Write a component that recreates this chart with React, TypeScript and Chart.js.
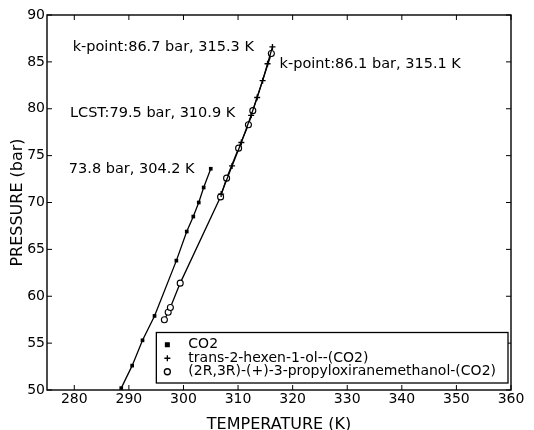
import { useEffect, useRef } from "react";
import { Chart, registerables } from "chart.js";

Chart.register(...registerables);

// ---- data ----
const co2T = [288.6, 290.6, 292.5, 294.7, 298.7, 300.6, 301.8, 302.8, 303.7, 305.0];
const co2P = [50.2, 52.6, 55.3, 57.9, 63.8, 66.9, 68.5, 70.0, 71.6, 73.6];

const hexT = [306.9, 308.9, 310.6, 312.4, 313.5, 314.5, 315.4, 316.3];
const hexP = [70.9, 73.9, 76.4, 79.3, 81.2, 83.0, 84.8, 86.6];

const oxiT = [296.5, 297.2, 297.6, 299.4, 306.8, 307.9, 310.1, 311.9, 312.7, 316.1];
const oxiP = [57.5, 58.3, 58.8, 61.4, 70.6, 72.6, 75.8, 78.3, 79.8, 85.9];

const seriesLabels = [
  "CO2",
  "trans-2-hexen-1-ol--(CO2)",
  "(2R,3R)-(+)-3-propyloxiranemethanol-(CO2)",
];

const xTicks = [280, 290, 300, 310, 320, 330, 340, 350, 360];
const yTicks = [50, 55, 60, 65, 70, 75, 80, 85, 90];

const noteTexts = [
  "k-point:86.7 bar, 315.3 K",
  "k-point:86.1 bar, 315.1 K",
  "LCST:79.5 bar, 310.9 K",
  "73.8 bar, 304.2 K",
];
const noteT = [279.7, 317.6, 279.2, 279.0];
const noteP = [86.6, 84.8, 79.5, 73.5];

const xTitle = "TEMPERATURE (K)";
const yTitle = "PRESSURE (bar)";

const FONT = "'DejaVu Sans', 'Liberation Sans', sans-serif";

function toPts(t: number[], p: number[]) {
  return t.map((v, i) => ({ x: v, y: p[i] }));
}

function drawMarker(ctx: CanvasRenderingContext2D, kind: number, x: number, y: number) {
  ctx.save();
  ctx.strokeStyle = "#000";
  ctx.fillStyle = "#000";
  ctx.lineWidth = 1.3;
  if (kind === 0) {
    ctx.fillRect(x - 2.5, y - 2.5, 5, 5);
  } else if (kind === 1) {
    ctx.beginPath();
    ctx.moveTo(x - 3, y);
    ctx.lineTo(x + 3, y);
    ctx.moveTo(x, y - 3);
    ctx.lineTo(x, y + 3);
    ctx.stroke();
  } else {
    ctx.fillStyle = "#fff";
    ctx.beginPath();
    ctx.arc(x, y, 3, 0, Math.PI * 2);
    ctx.fill();
    ctx.stroke();
  }
  ctx.restore();
}

const framePlugin = {
  id: "frameNotesLegend",
  afterDatasetsDraw(chart: any) {
    const { ctx, chartArea: a, scales } = chart;
    const xs = scales.x;
    const ys = scales.y;
    ctx.save();
    ctx.strokeStyle = "#000";
    ctx.lineWidth = 1.4;
    ctx.strokeRect(a.left, a.top, a.right - a.left, a.bottom - a.top);
    ctx.lineWidth = 1;
    ctx.beginPath();
    xTicks.forEach((v) => {
      const px = xs.getPixelForValue(v);
      ctx.moveTo(px, a.bottom);
      ctx.lineTo(px, a.bottom - 5);
      ctx.moveTo(px, a.top);
      ctx.lineTo(px, a.top + 5);
    });
    yTicks.forEach((v) => {
      const py = ys.getPixelForValue(v);
      ctx.moveTo(a.left, py);
      ctx.lineTo(a.left + 5, py);
      ctx.moveTo(a.right, py);
      ctx.lineTo(a.right - 5, py);
    });
    ctx.stroke();

    // annotations
    ctx.fillStyle = "#000";
    ctx.font = `14.5px ${FONT}`;
    ctx.textAlign = "left";
    ctx.textBaseline = "middle";
    noteTexts.forEach((t, i) => {
      ctx.fillText(t, xs.getPixelForValue(noteT[i]), ys.getPixelForValue(noteP[i]));
    });

    // legend box
    ctx.font = `14px ${FONT}`;
    let maxW = 0;
    seriesLabels.forEach((s) => {
      maxW = Math.max(maxW, ctx.measureText(s).width);
    });
    const rowH = 13.5;
    const boxW = 32 + maxW + 12;
    const boxH = rowH * seriesLabels.length + 10;
    const bx = a.right - 3 - boxW;
    const by = a.bottom - 7 - boxH;
    ctx.fillStyle = "#fff";
    ctx.fillRect(bx, by, boxW, boxH);
    ctx.strokeStyle = "#000";
    ctx.lineWidth = 1.3;
    ctx.strokeRect(bx, by, boxW, boxH);
    seriesLabels.forEach((s, i) => {
      const cy = by + 5 + rowH * (i + 0.5) + 0.5;
      drawMarker(ctx, i, bx + 11, cy);
      ctx.fillStyle = "#000";
      ctx.fillText(s, bx + 32, cy);
    });
    ctx.restore();
  },
};

export default function App() {
  const ref = useRef<HTMLCanvasElement | null>(null);

  useEffect(() => {
    if (!ref.current) return;
    const tickFont = { family: FONT, size: 14 };
    const chart = new Chart(ref.current, {
      type: "line",
      data: {
        datasets: [
          {
            label: seriesLabels[0],
            data: toPts(co2T, co2P),
            borderColor: "#000",
            backgroundColor: "#000",
            borderWidth: 1.3,
            pointStyle: "rect",
            pointRadius: 2.6,
            pointBorderWidth: 0,
            pointBackgroundColor: "#000",
            tension: 0,
          },
          {
            label: seriesLabels[1],
            data: toPts(hexT, hexP),
            borderColor: "#000",
            backgroundColor: "#000",
            borderWidth: 1.3,
            pointStyle: "cross",
            pointRadius: 3,
            pointBorderWidth: 1.3,
            pointBorderColor: "#000",
            tension: 0,
          },
          {
            label: seriesLabels[2],
            data: toPts(oxiT, oxiP),
            borderColor: "#000",
            backgroundColor: "#fff",
            borderWidth: 1.3,
            pointStyle: "circle",
            pointRadius: 3,
            pointBorderWidth: 1.1,
            pointBorderColor: "#000",
            pointBackgroundColor: "#fff",
            tension: 0,
          },
        ],
      },
      options: {
        animation: false,
        responsive: true,
        maintainAspectRatio: false,
        layout: { padding: { top: 15, right: 23, left: 0, bottom: 0 } },
        plugins: {
          legend: { display: false },
          tooltip: { enabled: false },
        },
        scales: {
          x: {
            type: "linear",
            min: 275,
            max: 360,
            afterBuildTicks: (s: any) => {
              s.ticks = xTicks.map((v) => ({ value: v }));
            },
            afterFit: (s: any) => {
              s.height = 40;
            },
            grid: { display: false, drawTicks: false },
            border: { display: false },
            ticks: { color: "#000", font: tickFont, padding: 1, maxRotation: 0 },
            title: {
              display: true,
              text: xTitle,
              color: "#000",
              font: { family: FONT, size: 16, lineHeight: 1.2 },
              padding: { top: 0, bottom: -4 },
            },
          },
          y: {
            type: "linear",
            min: 50,
            max: 90,
            afterBuildTicks: (s: any) => {
              s.ticks = yTicks.map((v) => ({ value: v }));
            },
            afterFit: (s: any) => {
              s.width = 47;
            },
            grid: { display: false, drawTicks: false },
            border: { display: false },
            ticks: { color: "#000", font: tickFont, padding: 2 },
            title: {
              display: true,
              text: yTitle,
              color: "#000",
              font: { family: FONT, size: 16, lineHeight: 1.2 },
              padding: { top: 8, bottom: 0 },
            },
          },
        },
      },
      plugins: [framePlugin],
    } as any);
    return () => chart.destroy();
  }, []);

  return (
    <div style={{ position: "fixed", left: 0, top: 0, width: 534, height: 430, background: "#fff" }}>
      <canvas ref={ref} />
    </div>
  );
}
